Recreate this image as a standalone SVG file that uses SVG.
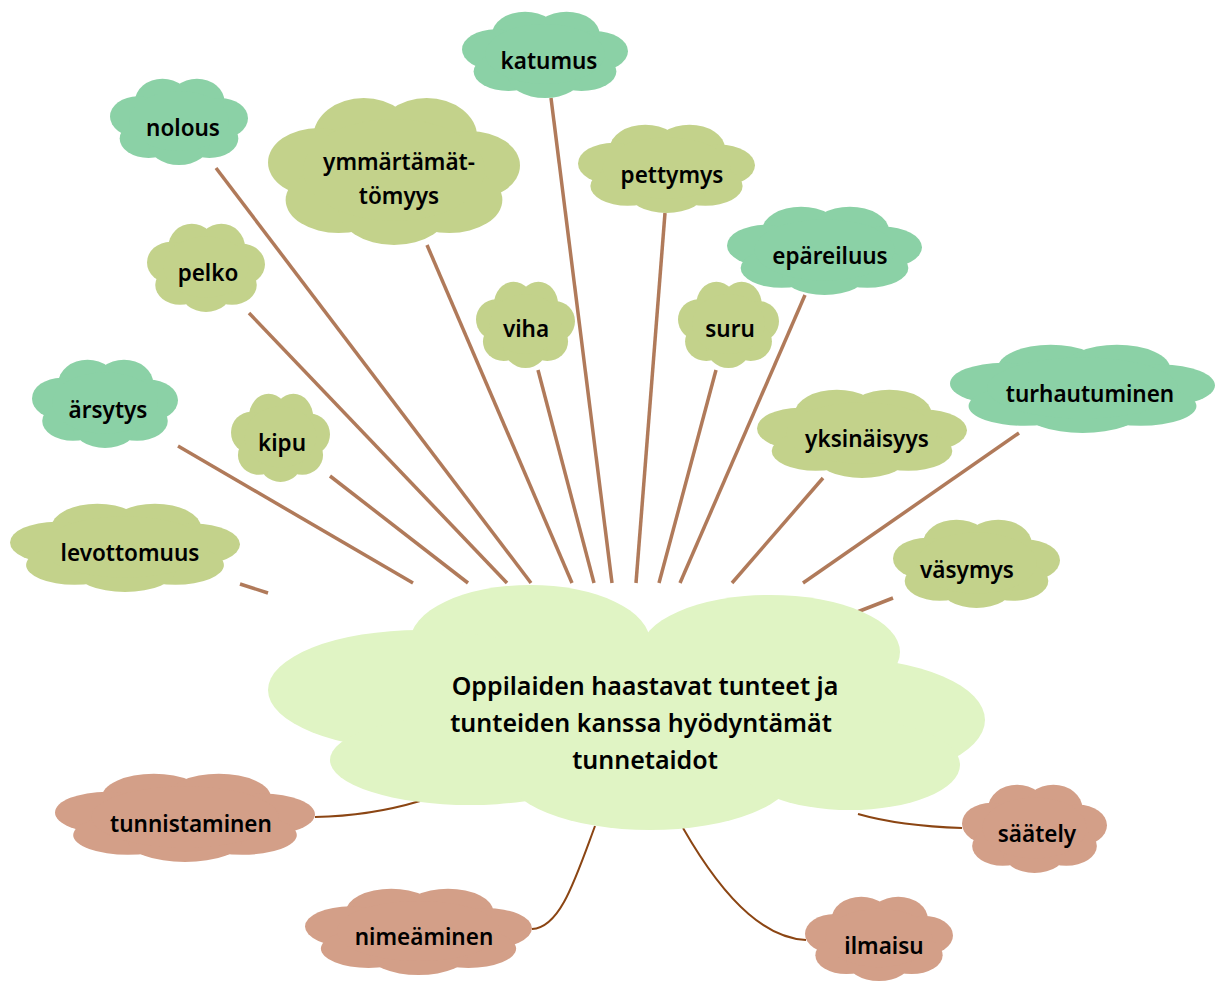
<svg xmlns="http://www.w3.org/2000/svg" xmlns:xlink="http://www.w3.org/1999/xlink" width="1215" height="981" viewBox="0 0 1215 981">
<style>
.t{font-family:"Noto Sans","Open Sans",sans-serif;font-weight:600;font-size:22.5px;fill:#000;text-anchor:middle}
.tc{font-size:25px}
.teal{fill:#8bd1a6}
.olive{fill:#c3d28b}
.brown{fill:#d39f88}
.core{fill:#e0f4c4}
.ln{stroke:#b07a5a;stroke-width:3.5;fill:none}
.cv{stroke:#8b4513;stroke-width:2;fill:none}
</style>
<defs>
<symbol id="cloud" viewBox="0 0 100 100" preserveAspectRatio="none">
<ellipse cx="38" cy="28" rx="20" ry="26"/>
<ellipse cx="63" cy="28" rx="20" ry="26"/>
<ellipse cx="20" cy="45" rx="20" ry="23"/>
<ellipse cx="80" cy="47" rx="20" ry="23"/>
<ellipse cx="28" cy="70" rx="21" ry="22"/>
<ellipse cx="72" cy="70" rx="21" ry="22"/>
<ellipse cx="50" cy="76" rx="22" ry="24"/>
<ellipse cx="50" cy="50" rx="36" ry="34"/>
</symbol>
</defs>
<rect width="1215" height="981" fill="#fff"/>
<g id="connectors">
<line class="ln" x1="240" y1="584" x2="268" y2="593"/>
<line class="ln" x1="178" y1="446" x2="413" y2="583"/>
<line class="ln" x1="330" y1="476" x2="468" y2="583"/>
<line class="ln" x1="249" y1="313" x2="507" y2="583"/>
<line class="ln" x1="216" y1="168" x2="531" y2="583"/>
<line class="ln" x1="427" y1="245" x2="572" y2="583"/>
<line class="ln" x1="538" y1="370" x2="594" y2="583"/>
<line class="ln" x1="551" y1="98" x2="612" y2="583"/>
<line class="ln" x1="665" y1="213" x2="636" y2="583"/>
<line class="ln" x1="716" y1="370" x2="659" y2="583"/>
<line class="ln" x1="805" y1="295" x2="680" y2="583"/>
<line class="ln" x1="823" y1="478" x2="732" y2="583"/>
<line class="ln" x1="1019" y1="433" x2="803" y2="583"/>
<line class="ln" x1="893" y1="598" x2="847" y2="616"/>
<path class="cv" d="M420,801 Q370,816 315,817"/>
<path class="cv" d="M595,826 C575,880 560,928 532,929"/>
<path class="cv" d="M683,828 C730,910 770,938 806,940"/>
<path class="cv" d="M858,814 Q900,826 962,828"/>
</g>
<g id="core" class="core">
<ellipse cx="530" cy="642" rx="120" ry="57"/>
<ellipse cx="770" cy="652" rx="130" ry="57"/>
<ellipse cx="420" cy="690" rx="152" ry="60"/>
<ellipse cx="840" cy="720" rx="145" ry="62"/>
<ellipse cx="470" cy="760" rx="140" ry="45"/>
<ellipse cx="650" cy="772" rx="145" ry="58"/>
<ellipse cx="850" cy="765" rx="110" ry="45"/>
<rect x="420" y="640" width="460" height="140"/>
<text class="t tc" x="645" y="695">Oppilaiden haastavat tunteet ja</text>
<text class="t tc" x="641" y="732">tunteiden kanssa hyödyntämät</text>
<text class="t tc" x="645" y="769">tunnetaidot</text>
</g>
<g id="katumus"><use href="#cloud" class="teal" x="462" y="10" width="166" height="88"/><text class="t" x="549" y="69">katumus</text></g>
<g id="nolous"><use href="#cloud" class="teal" x="110" y="77" width="138" height="88"/><text class="t" x="183" y="136">nolous</text></g>
<g id="ymmartamattomyys"><use href="#cloud" class="olive" x="268" y="95" width="252" height="150"/><text class="t" x="399" y="170">ymmärtämät-</text><text class="t" x="399" y="204">tömyys</text></g>
<g id="pettymys"><use href="#cloud" class="olive" x="578" y="123" width="177" height="90"/><text class="t" x="672" y="183">pettymys</text></g>
<g id="epareiluus"><use href="#cloud" class="teal" x="727" y="205" width="195" height="90"/><text class="t" x="830" y="264">epäreiluus</text></g>
<g id="pelko"><use href="#cloud" class="olive" x="147" y="222" width="118" height="90"/><text class="t" x="208" y="281">pelko</text></g>
<g id="viha"><use href="#cloud" class="olive" x="476" y="280" width="99" height="88"/><text class="t" x="526" y="337">viha</text></g>
<g id="suru"><use href="#cloud" class="olive" x="678" y="280" width="101" height="88"/><text class="t" x="730" y="337">suru</text></g>
<g id="arsytys"><use href="#cloud" class="teal" x="32" y="358" width="146" height="90"/><text class="t" x="108" y="418">ärsytys</text></g>
<g id="kipu"><use href="#cloud" class="olive" x="231" y="392" width="99" height="90"/><text class="t" x="282" y="451">kipu</text></g>
<g id="yksinaisyys"><use href="#cloud" class="olive" x="757" y="388" width="210" height="90"/><text class="t" x="867" y="447">yksinäisyys</text></g>
<g id="turhautuminen"><use href="#cloud" class="teal" x="950" y="343" width="265" height="90"/><text class="t" x="1090" y="402">turhautuminen</text></g>
<g id="levottomuus"><use href="#cloud" class="olive" x="10" y="502" width="230" height="90"/><text class="t" x="130" y="561">levottomuus</text></g>
<g id="vasymys"><use href="#cloud" class="olive" x="893" y="518" width="167" height="90"/><text class="t" x="967" y="578">väsymys</text></g>
<g id="tunnistaminen"><use href="#cloud" class="brown" x="55" y="772" width="260" height="90"/><text class="t" x="191" y="832">tunnistaminen</text></g>
<g id="nimeaminen"><use href="#cloud" class="brown" x="305" y="887" width="227" height="88"/><text class="t" x="424" y="945">nimeäminen</text></g>
<g id="saately"><use href="#cloud" class="brown" x="962" y="783" width="145" height="90"/><text class="t" x="1037" y="842">säätely</text></g>
<g id="ilmaisu"><use href="#cloud" class="brown" x="805" y="895" width="148" height="86"/><text class="t" x="884" y="954">ilmaisu</text></g>
</svg>
